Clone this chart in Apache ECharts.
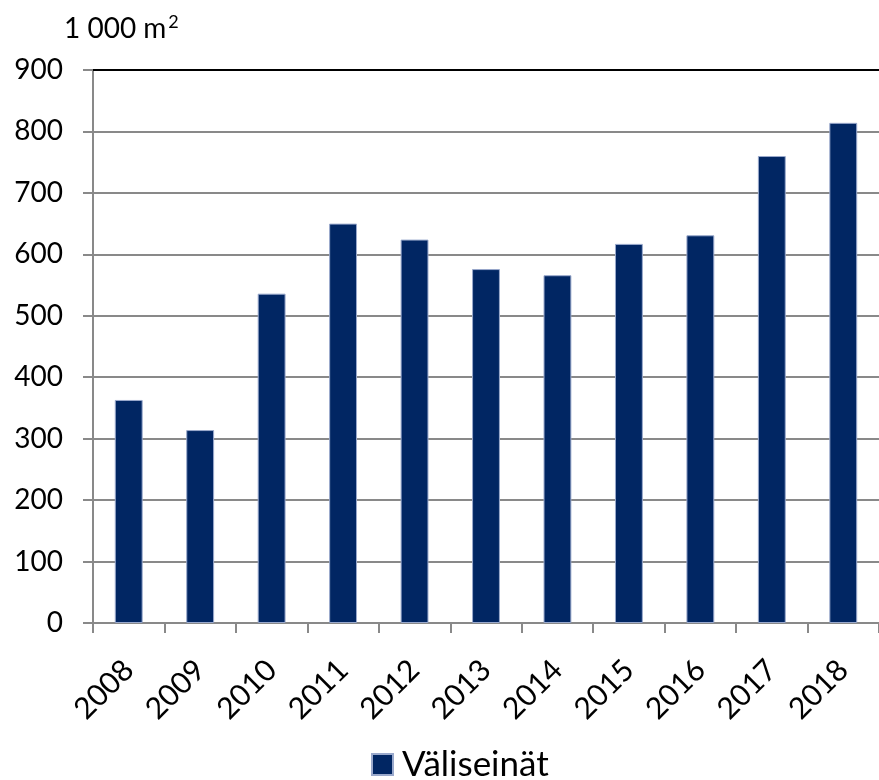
<!DOCTYPE html>
<html>
<head>
<meta charset="utf-8">
<script src="https://cdn.jsdelivr.net/npm/echarts@6/dist/echarts.min.js"></script>
<style>html,body{margin:0;padding:0;background:#fff;}#chart{width:879px;height:780px;}</style>
</head>
<body>
<div id="chart"></div>
<script>
var categories = ['2008','2009','2010','2011','2012','2013','2014','2015','2016','2017','2018'];
var values = [363, 314, 536, 650, 624, 576, 566, 617, 631, 760, 814];
var seriesName = 'Väliseinät';
var unitMain = '1 000 m';
var unitSup = '2';

var FONT = 'Lato';
var chart = echarts.init(document.getElementById('chart'), null, {renderer: 'canvas'});
chart.setOption({
  animation: false,
  backgroundColor: '#ffffff',
  title: {
    text: '{a|' + unitMain + '}{s|' + unitSup + '}',
    left: 59,
    top: 8,
    textStyle: {
      fontWeight: 'normal',
      rich: {
        a: {fontFamily: FONT, fontSize: 28, fontWeight: 'normal', lineHeight: 30, color: '#000', verticalAlign: 'bottom'},
        s: {fontFamily: FONT, fontSize: 18, fontWeight: 'normal', lineHeight: 30, color: '#000', verticalAlign: 'top', padding: [0, 0, 12, 2]}
      }
    }
  },
  legend: {
    data: [seriesName],
    left: 371,
    top: 747,
    padding: 0,
    itemWidth: 21,
    itemHeight: 21,
    itemGap: 9,
    icon: 'rect',
    textStyle: {fontFamily: FONT, fontSize: 35, color: '#000', padding: [0, 0, 0, 4]}
  },
  grid: {left: 93, top: 70, right: -5, bottom: 157, containLabel: false},
  xAxis: [{
    type: 'category',
    data: categories,
    axisLine: {show: true, lineStyle: {color: '#898989', width: 2}},
    axisTick: {show: true, length: 10, alignWithLabel: false, lineStyle: {color: '#898989', width: 2}},
    axisLabel: {rotate: 45, margin: 42, fontFamily: FONT, fontSize: 30, color: '#000', interval: 0}
  }, {
    type: 'category',
    position: 'top',
    data: categories,
    axisLine: {show: true, lineStyle: {color: '#000', width: 2}},
    axisTick: {show: false},
    axisLabel: {show: false}
  }],
  yAxis: {
    type: 'value',
    min: 0,
    max: 900,
    interval: 100,
    axisLine: {show: true, lineStyle: {color: '#898989', width: 2}},
    axisTick: {show: true, length: 10, lineStyle: {color: '#898989', width: 2}},
    axisLabel: {margin: 30, fontFamily: FONT, fontSize: 28, color: '#000'},
    splitLine: {show: true, lineStyle: {color: '#898989', width: 2}}
  },
  series: [{
    name: seriesName,
    type: 'bar',
    data: values,
    barWidth: '39%',
    itemStyle: {color: '#012663', borderColor: '#9aa9cc', borderWidth: 1}
  }]
});
</script>
</body>
</html>
